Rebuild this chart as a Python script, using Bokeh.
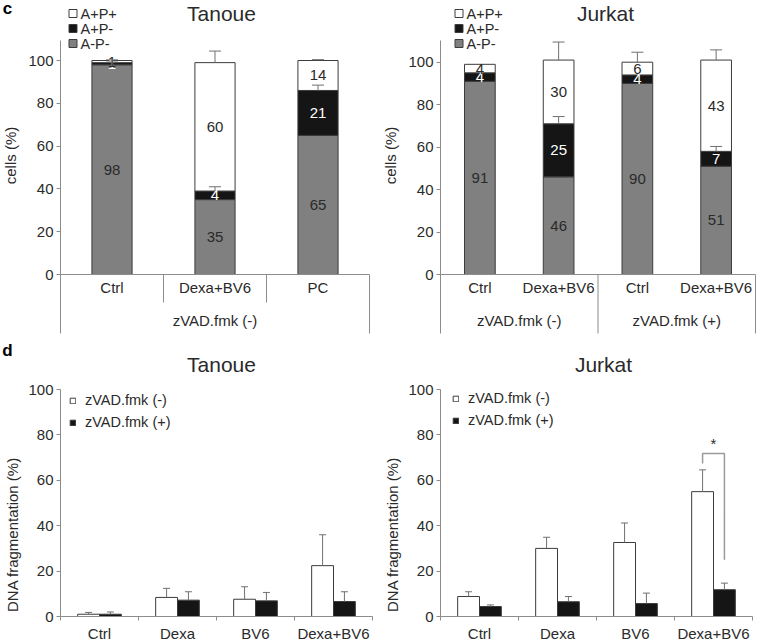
import numpy as np
from math import pi
from bokeh.plotting import figure
from bokeh.models import (Range1d, FixedTicker, Whisker, TeeHead, ColumnDataSource,
                          Label, Legend, LegendItem, LinearAxis)
from bokeh.layouts import row, column
from bokeh.embed import file_html
from bokeh.resources import INLINE
from bokeh.core.properties import value

# ---------------- data ----------------
y_ticks = [0, 20, 40, 60, 80, 100]
series_c = ["A+P+", "A+P-", "A-P-"]

tan_c_cats = ["Ctrl", "Dexa+BV6", "PC"]
tan_c_groups = ["zVAD.fmk (-)"]
tan_c_group_of = [0, 0, 0]
tan_c_app = [1, 60, 14]      # A+P+
tan_c_apm = [1, 4, 21]       # A+P-
tan_c_anp = [98, 35, 65]     # A-P-
tan_c_apm_err = [0.3, 2.0, 2.5]
tan_c_app_err = [0.3, 5.4, 0.4]

jur_c_cats = ["Ctrl", "Dexa+BV6", "Ctrl", "Dexa+BV6"]
jur_c_groups = ["zVAD.fmk (-)", "zVAD.fmk (+)"]
jur_c_group_of = [0, 0, 1, 1]
jur_c_app = [4, 30, 6, 43]
jur_c_apm = [4, 25, 4, 7]
jur_c_anp = [91, 46, 90, 51]
jur_c_apm_err = [0.0, 3.4, 0.0, 2.3]
jur_c_app_err = [0.0, 8.5, 4.7, 4.8]

d_cats = ["Ctrl", "Dexa", "BV6", "Dexa+BV6"]
d_series = ["zVAD.fmk (-)", "zVAD.fmk (+)"]
tan_d_minus = [1.0, 8.4, 7.6, 22.4]
tan_d_minus_err = [0.8, 4.0, 5.5, 13.6]
tan_d_plus = [1.0, 7.2, 6.9, 6.6]
tan_d_plus_err = [1.0, 3.7, 3.7, 4.3]
jur_d_minus = [8.8, 30.0, 32.6, 55.0]
jur_d_minus_err = [2.1, 4.9, 8.6, 9.6]
jur_d_plus = [4.4, 6.5, 5.7, 11.8]
jur_d_plus_err = [0.7, 2.3, 4.6, 2.9]
jur_d_sig_cat = 3
jur_d_sig_top = 71.8
jur_d_sig_left_end = 67.4
jur_d_sig_right_end = 25.0
jur_d_sig_mark = "*"

# ---------------- style ----------------
FONT = "Liberation Sans"
TXT = "#2a2a2a"
AX = "#8c8c8c"
OUT = "#3c3c3c"
GRAY = "#808080"
BLACK = "#151515"
WHITE = "#ffffff"
ERR = "#707070"


def span_range(pa, va, pb, vb, p_lo, p_hi):
    """value range covering pixels p_lo..p_hi given two pixel/value anchors"""
    k = (vb - va) / (pb - pa)
    return va + (p_lo - pa) * k, va + (p_hi - pa) * k


def base_figure(W, H, xr, yr):
    p = figure(width=W, height=H, x_range=Range1d(*xr), y_range=Range1d(*yr),
               output_backend="svg", toolbar_location=None, title=None,
               x_axis_location=None, y_axis_location=None,
               min_border_left=0, min_border_right=0, min_border_top=0, min_border_bottom=0)
    p.grid.visible = False
    p.outline_line_color = None
    return p


def add_yaxis(p, bounds):
    ax = LinearAxis(fixed_location=0, bounds=bounds,
                    ticker=FixedTicker(ticks=y_ticks, minor_ticks=[]))
    ax.axis_line_color = AX
    ax.major_tick_line_color = AX
    ax.major_tick_out = 4
    ax.major_tick_in = 0
    ax.minor_tick_line_color = None
    ax.major_label_text_font = FONT
    ax.major_label_text_font_size = "15px"
    ax.major_label_text_color = TXT
    ax.major_label_standoff = 3
    p.add_layout(ax, "left")


def add_label(p, text, x, y, size, bold=False, angle=0.0, color=TXT):
    p.add_layout(Label(x=x, y=y, x_units="screen", y_units="screen", text=text,
                       text_font=FONT, text_font_size=size, text_color=color,
                       text_font_style="bold" if bold else "normal",
                       text_align="center", text_baseline="middle", angle=angle))


def panel_c(cats, groups, group_of, app, apm, anp, apm_err, app_err, W, x_px, y_px,
            title, title_x, short_seps, leg_x, letter=None):
    n = len(cats)
    H = 335
    xr = span_range(x_px[0], 0, x_px[1], n, 0, W)
    yr = span_range(y_px[0], 0, y_px[1], 100, H, 0)
    ppu = (y_px[0] - y_px[1]) / 100.0
    v = lambda px: (y_px[0] - px) / ppu                       # y value at a pixel row
    u = lambda px: (px - x_px[0]) * n / (x_px[1] - x_px[0])  # x value at a pixel column
    p = base_figure(W, H, xr, yr)
    add_yaxis(p, (0, v(40)))

    x = np.arange(n) + 0.5
    b1 = np.array(anp, float)
    b2 = b1 + np.array(apm, float)
    b3 = b2 + np.array(app, float)
    w = 0.39
    p.vbar(x=x, bottom=0, top=b1, width=w, fill_color=GRAY, line_color=OUT, line_width=1)
    p.vbar(x=x, bottom=b1, top=b2, width=w, fill_color=BLACK, line_color=OUT, line_width=1)
    p.vbar(x=x, bottom=b2, top=b3, width=w, fill_color=WHITE, line_color=OUT, line_width=1)

    for lo, err in ((b2, apm_err), (b3, app_err)):
        err = np.array(err, float)
        m = err > 0
        src = ColumnDataSource(dict(x=x[m], lo=lo[m], hi=(lo + err)[m]))
        p.add_layout(Whisker(source=src, base="x", lower="lo", upper="hi", dimension="height",
                             line_color=ERR, line_width=1, lower_head=None,
                             upper_head=TeeHead(size=12, line_color=ERR, line_width=1),
                             level="overlay"))

    # values inside segments
    tx = np.concatenate([x, x, x])
    ty = np.concatenate([b1 / 2, (b1 + b2) / 2, (b2 + b3) / 2])
    tt = [str(t) for t in list(anp) + list(apm) + list(app)]
    tc = [TXT] * n + ["#ffffff"] * n + [TXT] * n
    p.text(x=tx, y=ty, text=tt, text_color=tc, text_font=value(FONT),
           text_font_size=value("15px"), text_align="center", text_baseline="middle")

    # category axis drawn as a table below the zero line
    p.segment(x0=[0], y0=[0], x1=[n], y1=[0], line_color=AX, line_width=1)
    p.text(x=x, y=[v(287)] * n, text=cats, text_color=TXT, text_font=value(FONT),
           text_font_size=value("15px"), text_align="center", text_baseline="middle")
    gx = [float(np.mean([x[i] for i in range(n) if group_of[i] == g])) for g in range(len(groups))]
    p.text(x=gx, y=[v(320)] * len(groups), text=groups, text_color=TXT, text_font=value(FONT),
           text_font_size=value("15px"), text_align="center", text_baseline="middle")
    lx, ly = [], []
    for i in range(n + 1):
        if i == 0 or i == n or group_of[i - 1] != group_of[i]:
            lx.append(i); ly.append(v(333))
        elif short_seps:
            lx.append(i); ly.append(v(302))
    p.segment(x0=lx, y0=[0] * len(lx), x1=lx, y1=ly, line_color=AX, line_width=1)

    # legend (series keys)
    rows_px = [13, 28, 43]
    p.scatter(x=[u(leg_x + 3.5)] * 3, y=[v(r) for r in rows_px], marker="square", size=8,
              fill_color=[WHITE, BLACK, GRAY], line_color=OUT, line_width=1)
    p.text(x=[u(leg_x + 11)] * 3, y=[v(r) for r in rows_px], text=series_c, text_color=TXT,
           text_font=value(FONT), text_font_size=value("14.5px"), text_align="left",
           text_baseline="middle")

    add_label(p, title, title_x, H - 13, "21px")
    add_label(p, "cells (%)", 10, H - 155, "15px", angle=pi / 2)
    if letter:
        add_label(p, letter, 7, H - 8, "17px", bold=True, color="#000000")
    return p


def panel_d(cats, minus, minus_err, plus, plus_err, W, x_px, title, title_x, leg_x, leg_y,
            sig=None, letter=None):
    n = len(cats)
    H = 308
    y_px = (281, 54)
    xr = span_range(x_px[0], 0, x_px[1], n, 0, W)
    yr = span_range(y_px[0], 0, y_px[1], 100, H, 0)
    p = base_figure(W, H, xr, yr)
    add_yaxis(p, (0, 100))

    xa = LinearAxis(fixed_location=0, bounds=(0, n),
                    ticker=FixedTicker(ticks=[i + 0.5 for i in range(n)],
                                       minor_ticks=list(range(n + 1))))
    xa.major_label_overrides = {i + 0.5: c for i, c in enumerate(cats)}
    xa.axis_line_color = AX
    xa.major_tick_line_color = None
    xa.major_tick_out = 0
    xa.major_tick_in = 0
    xa.minor_tick_line_color = AX
    xa.minor_tick_out = 4
    xa.minor_tick_in = 0
    xa.major_label_standoff = 4
    xa.major_label_text_font = FONT
    xa.major_label_text_font_size = "15px"
    xa.major_label_text_color = TXT
    p.add_layout(xa, "below")

    w = 0.28
    xm = np.arange(n) + 0.5 - w / 2
    xp = np.arange(n) + 0.5 + w / 2
    r_m = p.vbar(x=xm, top=minus, width=w, fill_color=WHITE, line_color=OUT, line_width=1)
    r_p = p.vbar(x=xp, top=plus, width=w, fill_color=BLACK, line_color=OUT, line_width=1)
    for xx, vv, e in ((xm, minus, minus_err), (xp, plus, plus_err)):
        vv = np.array(vv, float)
        src = ColumnDataSource(dict(x=xx, lo=vv, hi=vv + np.array(e, float)))
        p.add_layout(Whisker(source=src, base="x", lower="lo", upper="hi", dimension="height",
                             line_color=ERR, line_width=1, lower_head=None,
                             upper_head=TeeHead(size=7, line_color=ERR, line_width=1),
                             level="overlay"))

    if sig is not None:
        c, top, le, re, mark = sig
        p.line(x=[xm[c], xm[c], xp[c], xp[c]], y=[le, top, top, re], line_color="#9a9a9a",
               line_width=1.5)
        p.text(x=[(xm[c] + xp[c]) / 2], y=[top + 0.5], text=[mark], text_color=TXT,
               text_font=value(FONT), text_font_size=value("15px"),
               text_align="center", text_baseline="bottom")

    leg = Legend(items=[LegendItem(label=d_series[0], renderers=[r_m]),
                        LegendItem(label=d_series[1], renderers=[r_p])],
                 location=(leg_x, H - (leg_y - 11) - 44), glyph_width=7, glyph_height=7,
                 label_standoff=9, label_height=22, padding=0, margin=0, spacing=0,
                 border_line_color=None, background_fill_alpha=0, label_text_font=FONT,
                 label_text_font_size="14.5px", label_text_color=TXT)
    p.add_layout(leg)

    add_label(p, title, title_x, H - 29, "21px")
    add_label(p, "DNA fragmentation (%)", 12, H - 199, "15px", angle=pi / 2)
    if letter:
        add_label(p, letter, 7, H - 15, "17px", bold=True, color="#000000")
    return p


p1 = panel_c(tan_c_cats, tan_c_groups, tan_c_group_of, tan_c_app, tan_c_apm, tan_c_anp,
             tan_c_apm_err, tan_c_app_err, 380, (60, 369), (274, 60), "Tanoue", 221, True,
             69, letter="c")
p2 = panel_c(jur_c_cats, jur_c_groups, jur_c_group_of, jur_c_app, jur_c_apm, jur_c_anp,
             jur_c_apm_err, jur_c_app_err, 377, (60, 375), (274, 61.7), "Jurkat", 225, False,
             75)
p3 = panel_d(d_cats, tan_d_minus, tan_d_minus_err, tan_d_plus, tan_d_plus_err, 380, (60, 372),
             "Tanoue", 221, 69, 65, letter="d")
p4 = panel_d(d_cats, jur_d_minus, jur_d_minus_err, jur_d_plus, jur_d_plus_err, 377, (60, 372),
             "Jurkat", 223, 72, 63,
             sig=(jur_d_sig_cat, jur_d_sig_top, jur_d_sig_left_end, jur_d_sig_right_end,
                  jur_d_sig_mark))

layout = column(row(p1, p2), row(p3, p4))
open("out.html", "w").write(file_html(layout, INLINE))
